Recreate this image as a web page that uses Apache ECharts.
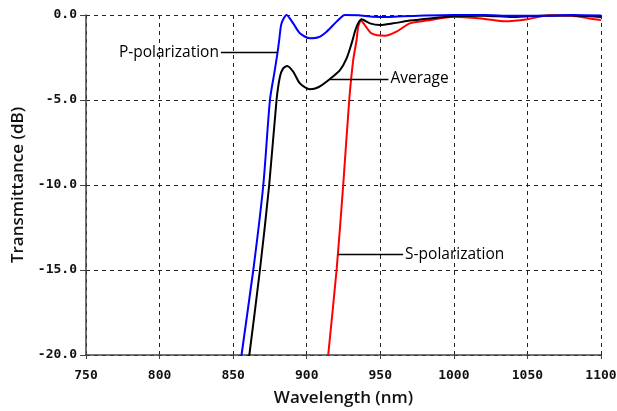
<!DOCTYPE html>
<html>
<head>
<meta charset="utf-8">
<script src="https://cdn.jsdelivr.net/npm/echarts@6/dist/echarts.min.js"></script>
<style>
html,body{margin:0;padding:0;background:#fff;}
#chart{width:617px;height:411px;}
</style>
</head>
<body>
<div id="chart"></div>
<script>
// Wavelength (nm) and transmittance (dB) samples for each polarization
const pWl  = [853, 855.7, 863.7, 870.5, 875, 878, 880.2, 881.3, 882.9, 886.3, 890.8, 895.4, 902.2, 907.9, 913.5, 920.3, 926, 935, 945, 955, 965, 980, 1000, 1020, 1040, 1060, 1080, 1100];
const pDb  = [-22, -20, -15, -10, -5, -3.4, -2.2, -1.47, -0.49, 0, -0.49, -1.08, -1.37, -1.31, -0.98, -0.39, 0, -0.02, -0.1, -0.12, -0.08, -0.03, 0, 0, -0.05, -0.05, 0, -0.03];

const avgWl = [858, 861, 868.2, 874.5, 879.5, 881.8, 884, 886.7, 890.8, 895.4, 902.2, 907.9, 915.8, 922.6, 927.1, 930.5, 933.9, 937.3, 942.9, 949.7, 958.8, 970.1, 983.7, 1000, 1020, 1040, 1060, 1080, 1100];
const avgDb = [-22, -20, -15, -10, -5, -3.63, -3.14, -3.0, -3.33, -4.02, -4.37, -4.25, -3.76, -3.24, -2.55, -1.67, -0.69, -0.25, -0.49, -0.59, -0.49, -0.33, -0.2, -0.08, -0.04, -0.12, -0.05, -0.03, -0.12];

const sWl  = [913, 914.6, 920.3, 924.8, 928.9, 931.6, 933.9, 935, 936.8, 939.5, 944, 953.1, 961, 970.1, 981.4, 1000, 1020, 1035, 1050, 1065, 1080, 1092, 1100];
const sDb  = [-21.5, -20, -15, -10, -5, -2.65, -1.47, -0.69, -0.33, -0.59, -1.08, -1.22, -0.98, -0.49, -0.33, -0.1, -0.22, -0.37, -0.25, -0.02, -0.05, -0.2, -0.3];

// Callout text and the curve point each one points at
const calloutNames = ['P-polarization', 'Average', 'S-polarization'];
const calloutFrom  = [[880.2, -2.2], [915.8, -3.76], [921.4, -14.1]];
const calloutTo    = [[841.7, -2.2], [955.5, -3.76], [965.5, -14.1]];

const xTicks = [750, 1100, 50];
const yTicks = [-20, 0, 5];

function pairs(xs, ys) { return xs.map((x, i) => [x, ys[i]]); }

function callout(i) {
  return {
    silent: true,
    symbol: ['none', 'none'],
    animation: false,
    lineStyle: { color: '#000', width: 1.3, type: 'solid' },
    label: {
      show: true,
      position: 'end',
      distance: 2,
      formatter: calloutNames[i],
      color: '#000',
      fontFamily: 'Open Sans',
      fontSize: 15.5
    },
    data: [[{ coord: calloutFrom[i] }, { coord: calloutTo[i] }]]
  };
}

const chart = echarts.init(document.getElementById('chart'));
const tickFont = { fontFamily: 'DejaVu Sans Mono', fontSize: 13, fontWeight: 'bold', color: '#111' };
const nameFont = { fontFamily: 'Open Sans', fontSize: 17, fontWeight: 600, color: '#111' };
const dashed = { show: true, lineStyle: { color: '#222', type: [4, 4], width: 1 } };

function curve(name, xs, ys, color, idx) {
  return {
    type: 'line', name: name, data: pairs(xs, ys),
    smooth: 0.25, showSymbol: false, clip: true,
    lineStyle: { color: color, width: 2 },
    markLine: callout(idx)
  };
}

chart.setOption({
  animation: false,
  grid: { left: 86, right: 16, top: 15, bottom: 56, containLabel: false, outerBoundsMode: 'none' },
  xAxis: {
    type: 'value',
    min: xTicks[0], max: xTicks[1], interval: xTicks[2],
    name: 'Wavelength (nm)',
    nameLocation: 'middle',
    nameGap: 35,
    nameTextStyle: nameFont,
    axisLine: { show: true, onZero: false, lineStyle: { color: '#444', width: 1.5 } },
    axisTick: { show: true, length: 4, lineStyle: { color: '#444' } },
    axisLabel: Object.assign({ margin: 14, formatter: v => String(v) }, tickFont),
    splitLine: dashed
  },
  yAxis: {
    type: 'value',
    min: yTicks[0], max: yTicks[1], interval: yTicks[2],
    name: 'Transmittance (dB)',
    nameLocation: 'middle',
    nameGap: 59,
    nameTextStyle: nameFont,
    axisLine: { show: true, lineStyle: { color: '#444', width: 1.5 } },
    axisTick: { show: true, length: 6, lineStyle: { color: '#444' } },
    axisLabel: Object.assign({ margin: 9, formatter: v => v.toFixed(1) }, tickFont),
    splitLine: dashed
  },
  series: [
    curve('S-polarization', sWl, sDb, '#ff0000', 2),
    curve('Average', avgWl, avgDb, '#000000', 1),
    curve('P-polarization', pWl, pDb, '#0000ff', 0)
  ]
});
</script>
</body>
</html>
